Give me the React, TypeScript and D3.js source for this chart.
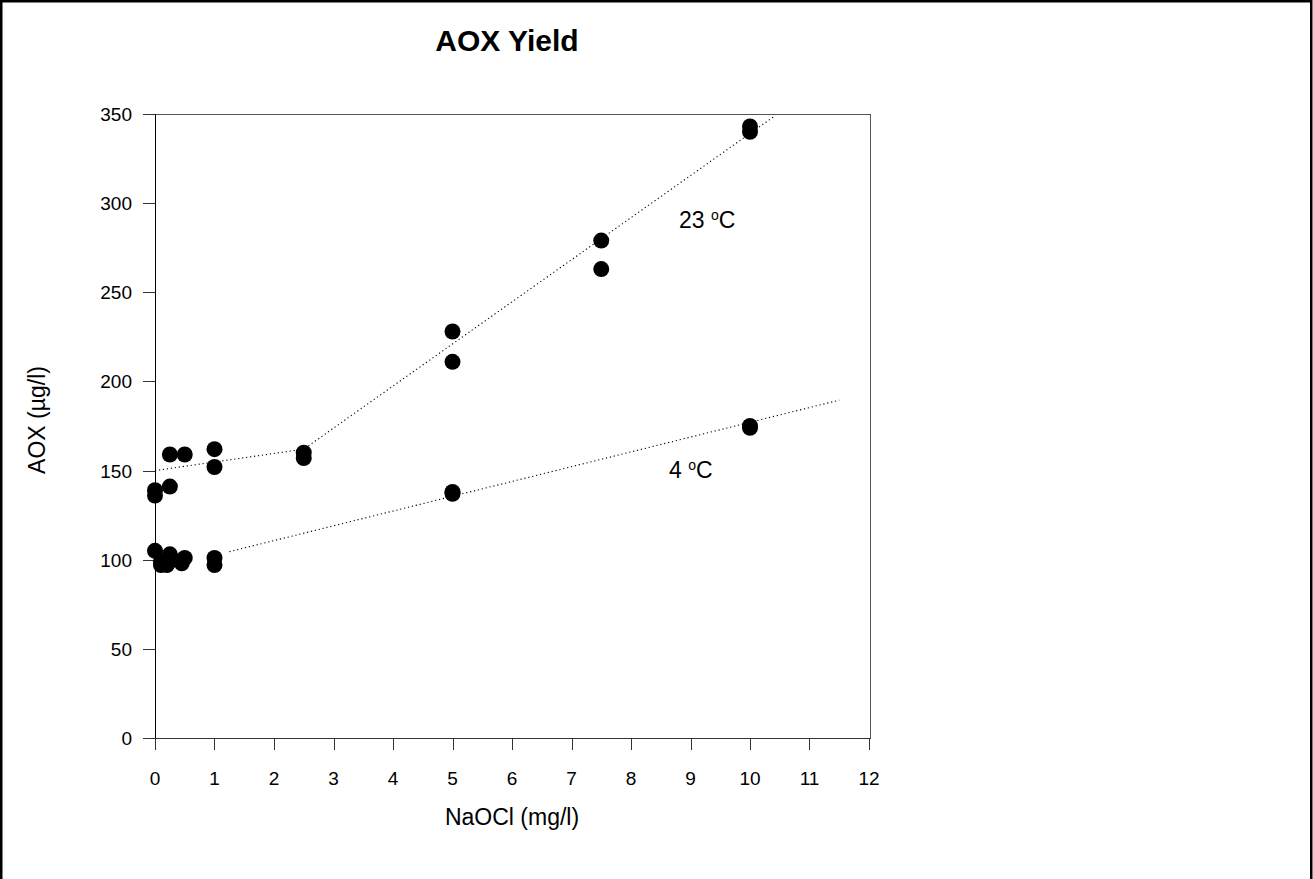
import React from "react";
import * as d3 from "d3";

const W = 1313;
const H = 879;

const xTicks = [0, 1, 2, 3, 4, 5, 6, 7, 8, 9, 10, 11, 12];
const yTicks = [0, 50, 100, 150, 200, 250, 300, 350];

// 23 °C series
const warmX = [0, 0, 0.25, 0.25, 0.5, 1, 1, 2.5, 2.5, 5, 5, 7.5, 7.5, 10, 10];
const warmY = [139, 136, 141, 159, 159, 162, 152, 160, 157, 228, 211, 279, 263, 343, 340];

// 4 °C series
const coldX = [0, 0.1, 0.1, 0.2, 0.25, 0.3, 0.5, 0.45, 1, 1, 5, 5, 10, 10];
const coldY = [105, 99, 97, 97, 103, 100, 101, 98, 101, 97, 138, 137, 175, 174];

// fitted (dotted) lines
const warmFitX = [0, 2.5, 10.42];
const warmFitY = [150, 162, 349];
const coldFitX = [1.25, 11.5];
const coldFitY = [104.5, 189.5];

const FONT = "'Liberation Sans', Arial, Helvetica, sans-serif";

export default function App() {
  const left = 155, right = 870, top = 114, bottom = 738;
  const x = d3.scaleLinear().domain([0, 12]).range([left, right - 1]);
  const y = d3.scaleLinear().domain([0, 350]).range([bottom, top]);

  const line = d3
    .line<[number, number]>()
    .x((d) => x(d[0]))
    .y((d) => y(d[1]));

  const warmFit: [number, number][] = warmFitX.map((v, i) => [v, warmFitY[i]]);
  const coldFit: [number, number][] = coldFitX.map((v, i) => [v, coldFitY[i]]);

  return (
    <svg
      width={W}
      height={H}
      style={{ position: "absolute", left: 0, top: 0, background: "#fff" }}
      fontFamily={FONT}
    >
      <rect x={0} y={0} width={W} height={H} fill="#fff" />
      {/* outer border */}
      <rect x={1.25} y={1.25} width={W - 3} height={H + 20} fill="none" stroke="#000" strokeWidth={2.5} />

      {/* title */}
      <text x={507} y={51} textAnchor="middle" fontSize={30} fontWeight="bold">
        AOX Yield
      </text>

      {/* frame */}
      <line x1={left - 12} x2={right} y1={top + 0.5} y2={top + 0.5} stroke="#555" strokeWidth={1} />
      <line x1={right + 0.5} x2={right + 0.5} y1={top} y2={bottom} stroke="#555" strokeWidth={1} />
      <line x1={left + 0.5} x2={left + 0.5} y1={top} y2={bottom + 12} stroke="#000" strokeWidth={1} />
      <line x1={left - 12} x2={right + 1} y1={bottom + 0.5} y2={bottom + 0.5} stroke="#333" strokeWidth={1} />

      {/* y ticks */}
      {yTicks.map((t) => (
        <g key={"y" + t}>
          <line x1={left - 12} x2={left} y1={Math.round(y(t)) + 0.5} y2={Math.round(y(t)) + 0.5} stroke="#333" />
          <text x={left - 23} y={y(t) + 7} textAnchor="end" fontSize={19}>
            {t}
          </text>
        </g>
      ))}

      {/* x ticks */}
      {xTicks.map((t) => (
        <g key={"x" + t}>
          <line x1={Math.round(x(t)) + 0.5} x2={Math.round(x(t)) + 0.5} y1={bottom} y2={bottom + 12} stroke="#333" />
          <text x={x(t)} y={785} textAnchor="middle" fontSize={19}>
            {t}
          </text>
        </g>
      ))}

      {/* axis titles */}
      <text x={512} y={825} textAnchor="middle" fontSize={23}>
        NaOCl (mg/l)
      </text>
      <text transform="translate(45,420) rotate(-90)" textAnchor="middle" fontSize={23}>
        AOX (µg/l)
      </text>

      {/* fit lines */}
      <path d={line(warmFit) || ""} fill="none" stroke="#000" strokeWidth={1.1} strokeDasharray="1.2 2.8" />
      <path d={line(coldFit) || ""} fill="none" stroke="#000" strokeWidth={1.1} strokeDasharray="1.2 2.8" />

      {/* points */}
      {warmX.map((v, i) => (
        <circle key={"w" + i} cx={x(v)} cy={y(warmY[i])} r={8} fill="#000" />
      ))}
      {coldX.map((v, i) => (
        <circle key={"c" + i} cx={x(v)} cy={y(coldY[i])} r={8} fill="#000" />
      ))}

      {/* labels */}
      <text x={679} y={228} fontSize={23}>
        23 <tspan fontSize={14} dy={-8}>o</tspan>
        <tspan dy={8}>C</tspan>
      </text>
      <text x={669} y={478} fontSize={23}>
        4 <tspan fontSize={14} dy={-8}>o</tspan>
        <tspan dy={8}>C</tspan>
      </text>
    </svg>
  );
}
